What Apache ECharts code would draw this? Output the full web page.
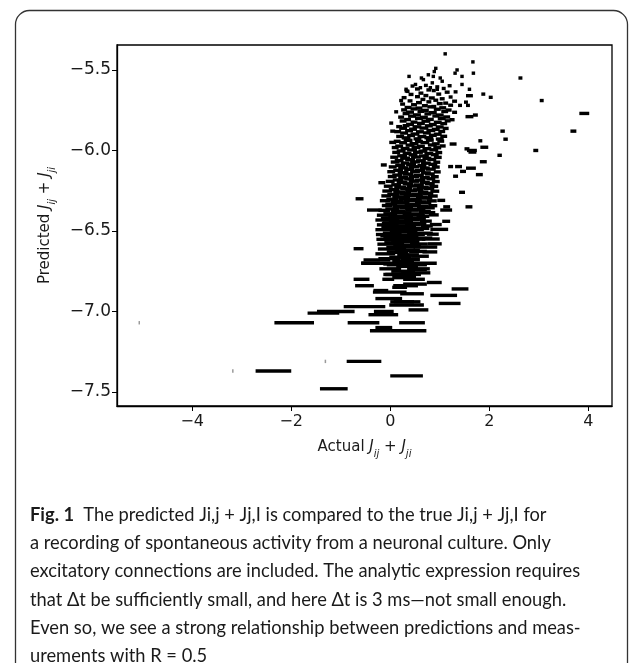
<!DOCTYPE html>
<html>
<head>
<meta charset="utf-8">
<script src="https://cdn.jsdelivr.net/npm/echarts@6/dist/echarts.min.js"></script>
<style>
  html, body { margin: 0; padding: 0; background: #fff; }
  #chart { width: 632px; height: 663px; }
</style>
</head>
<body>
<div id="chart"></div>
<script>
  // each entry: [actual Jij+Jji, predicted Jij+Jji, half length of the horizontal bar]
  const topDots = [
    [1.11, -5.40, 0.035], [1.67, -5.45, 0.035], [0.92, -5.49, 0.035], [0.89, -5.51, 0.035],
    [1.35, -5.50, 0.035], [1.31, -5.52, 0.035], [1.45, -5.54, 0.035], [1.68, -5.52, 0.035],
    [2.63, -5.55, 0.04], [0.38, -5.54, 0.035], [0.63, -5.55, 0.035], [0.67, -5.56, 0.035],
    [0.77, -5.53, 0.035], [0.87, -5.54, 0.035], [1.01, -5.55, 0.035], [1.05, -5.57, 0.035],
    [0.51, -5.59, 0.035], [0.85, -5.58, 0.035], [1.45, -5.59, 0.035], [1.60, -5.62, 0.035],
    [0.32, -5.62, 0.035], [0.61, -5.61, 0.035], [0.81, -5.61, 0.035], [0.95, -5.62, 0.035]
  ]

  const rightOutliers = [
    [1.60, -5.66, 0.07], [1.88, -5.65, 0.04], [2.03, -5.67, 0.04], [3.06, -5.69, 0.04],
    [1.53, -5.70, 0.04], [1.57, -5.72, 0.04], [1.41, -5.72, 0.04], [1.60, -5.79, 0.08],
    [1.72, -5.78, 0.05], [3.92, -5.77, 0.10], [2.27, -5.88, 0.045], [3.70, -5.88, 0.06],
    [2.33, -5.93, 0.045], [1.82, -5.94, 0.04], [1.55, -5.99, 0.05], [1.66, -6.01, 0.08],
    [1.90, -5.98, 0.08], [2.94, -6.00, 0.05], [2.21, -6.03, 0.045], [1.88, -6.07, 0.07],
    [1.63, -6.11, 0.10], [1.47, -6.13, 0.06], [1.80, -6.15, 0.07], [1.45, -6.26, 0.06],
    [1.59, -6.35, 0.07], [1.27, -5.96, 0.07], [1.65, -6.00, 0.10], [1.38, -6.10, 0.07],
    [1.22, -6.10, 0.05], [1.32, -6.16, 0.05], [1.14, -6.35, 0.07], [1.13, -6.37, 0.12],
    [1.03, -6.31, 0.08], [1.13, -6.44, 0.08], [0.99, -6.49, 0.18], [0.82, -6.55, 0.18],
    [0.71, -6.60, 0.24], [0.57, -6.71, 0.17], [0.54, -6.74, 0.20], [0.51, -6.76, 0.30],
    [1.41, -6.86, 0.17], [1.20, -6.95, 0.22], [1.08, -6.90, 0.27], [0.89, -6.82, 0.15],
    [0.50, -6.83, 0.24], [0.19, -6.85, 0.15], [0.44, -6.89, 0.24], [0.34, -6.94, 0.27],
    [0.57, -6.70, 0.37], [0.48, -6.80, 0.22], [0.31, -6.84, 0.25], [0.88, -6.40, 0.10],
    [0.92, -6.46, 0.12], [0.86, -6.52, 0.12], [0.90, -6.58, 0.14], [0.80, -6.63, 0.15]
  ]

  const leftEdge = [
    [-0.62, -6.30, 0.08], [-0.17, -6.20, 0.07], [-0.13, -6.09, 0.06], [0.05, -5.95, 0.07],
    [0.05, -5.88, 0.05], [-0.32, -6.37, 0.15], [0.02, -5.83, 0.04], [0.12, -5.76, 0.04],
    [0.22, -5.69, 0.04], [0.33, -5.63, 0.04], [-0.64, -6.61, 0.10], [-0.27, -6.68, 0.27],
    [-0.40, -6.70, 0.19], [-0.58, -6.80, 0.16], [-0.52, -6.84, 0.19], [-0.04, -6.80, 0.12],
    [-0.19, -6.87, 0.15], [0.03, -6.77, 0.17], [0.10, -6.63, 0.17], [0.42, -6.62, 0.18],
    [0.21, -6.42, 0.40], [0.15, -6.45, 0.30], [0.17, -6.48, 0.35], [0.10, -6.53, 0.30],
    [0.25, -6.55, 0.25], [-0.20, -6.70, 0.38], [0.06, -6.71, 0.13], [-0.01, -6.88, 0.34],
    [-0.03, -6.92, 0.27]
  ]

  // dense middle of the cloud, read row by row
  const coreUpper = [
    [0.45, -5.600, 0.04], [0.72, -5.596, 0.04], [0.95, -5.605, 0.04], [1.20, -5.598, 0.04],
    [0.55, -5.618, 0.05], [0.78, -5.624, 0.05], [1.08, -5.615, 0.04],
    [0.35, -5.633, 0.04], [0.88, -5.628, 0.04], [1.32, -5.636, 0.04],
    [0.62, -5.644, 0.05], [1.15, -5.638, 0.05],
    [0.42, -5.652, 0.05], [0.72, -5.659, 0.05], [0.98, -5.650, 0.05],
    [0.28, -5.672, 0.05], [0.55, -5.666, 0.05], [0.84, -5.674, 0.06], [1.22, -5.668, 0.04],
    [0.66, -5.683, 0.05], [1.05, -5.679, 0.05],
    [0.40, -5.692, 0.05], [0.92, -5.688, 0.05], [1.30, -5.694, 0.05],
    [0.58, -5.703, 0.06], [0.78, -5.698, 0.05], [1.12, -5.706, 0.05],
    [0.25, -5.712, 0.05], [0.48, -5.716, 0.06], [1.00, -5.709, 0.06],
    [0.70, -5.722, 0.06], [0.88, -5.727, 0.05], [1.22, -5.719, 0.05],
    [0.36, -5.733, 0.07], [0.58, -5.737, 0.07], [0.82, -5.729, 0.07], [1.06, -5.735, 0.07],
    [0.28, -5.748, 0.06], [0.48, -5.742, 0.07], [0.70, -5.751, 0.08], [0.95, -5.744, 0.07], [1.18, -5.749, 0.06],
    [0.40, -5.762, 0.08], [0.62, -5.757, 0.07], [0.86, -5.765, 0.08], [1.10, -5.758, 0.07], [1.30, -5.763, 0.05],
    [0.32, -5.771, 0.07], [0.54, -5.779, 0.08], [0.76, -5.773, 0.07], [1.00, -5.780, 0.08],
    [0.22, -5.793, 0.06], [0.44, -5.787, 0.08], [0.68, -5.794, 0.08], [0.92, -5.786, 0.07], [1.14, -5.792, 0.07],
    [0.35, -5.808, 0.07], [0.58, -5.801, 0.08], [0.80, -5.807, 0.08], [1.04, -5.802, 0.08], [1.25, -5.809, 0.05],
    [0.26, -5.817, 0.07], [0.48, -5.824, 0.07], [0.72, -5.818, 0.09], [0.96, -5.825, 0.08], [1.16, -5.816, 0.06],
    [0.40, -5.838, 0.08], [0.62, -5.832, 0.08], [0.86, -5.839, 0.08], [1.08, -5.833, 0.07],
    [0.18, -5.852, 0.06], [0.32, -5.846, 0.07], [0.54, -5.853, 0.09], [0.78, -5.847, 0.08], [1.00, -5.854, 0.08],
    [0.26, -5.862, 0.08], [0.46, -5.868, 0.08], [0.68, -5.861, 0.09], [0.92, -5.869, 0.08], [1.12, -5.863, 0.06],
    [0.15, -5.883, 0.07], [0.38, -5.877, 0.08], [0.60, -5.884, 0.08], [0.82, -5.876, 0.09], [1.04, -5.882, 0.07],
    [0.28, -5.892, 0.08], [0.50, -5.898, 0.09], [0.74, -5.891, 0.08], [0.96, -5.899, 0.08],
    [0.20, -5.913, 0.08], [0.42, -5.907, 0.08], [0.64, -5.914, 0.09], [0.86, -5.906, 0.08], [1.08, -5.912, 0.07],
    [0.32, -5.922, 0.09], [0.55, -5.928, 0.08], [0.78, -5.921, 0.09], [1.00, -5.929, 0.08],
    [0.14, -5.943, 0.07], [0.36, -5.937, 0.09], [0.58, -5.944, 0.08], [0.80, -5.936, 0.08], [1.02, -5.942, 0.07],
    [0.26, -5.952, 0.08], [0.48, -5.958, 0.09], [0.70, -5.951, 0.09], [0.92, -5.959, 0.08],
    [0.18, -5.973, 0.08], [0.40, -5.967, 0.09], [0.62, -5.974, 0.08], [0.85, -5.966, 0.09], [1.06, -5.972, 0.06]
  ]

  const coreMiddle = [
    [0.10, -5.982, 0.07], [0.30, -5.988, 0.09], [0.52, -5.981, 0.09], [0.74, -5.989, 0.09], [0.95, -5.983, 0.08],
    [0.22, -6.003, 0.09], [0.44, -5.997, 0.10], [0.66, -6.004, 0.09], [0.88, -5.996, 0.09],
    [0.12, -6.012, 0.08], [0.34, -6.018, 0.09], [0.56, -6.011, 0.10], [0.78, -6.019, 0.09], [0.98, -6.013, 0.07],
    [0.24, -6.033, 0.10], [0.46, -6.027, 0.09], [0.68, -6.034, 0.10], [0.90, -6.026, 0.08],
    [0.08, -6.042, 0.08], [0.30, -6.048, 0.10], [0.52, -6.041, 0.10], [0.74, -6.049, 0.09], [0.96, -6.043, 0.08],
    [0.18, -6.063, 0.09], [0.40, -6.057, 0.10], [0.62, -6.064, 0.10], [0.84, -6.056, 0.09],
    [0.10, -6.072, 0.09], [0.30, -6.078, 0.09], [0.50, -6.071, 0.10], [0.72, -6.079, 0.10], [0.94, -6.073, 0.07],
    [0.20, -6.093, 0.10], [0.42, -6.087, 0.10], [0.64, -6.094, 0.09], [0.86, -6.086, 0.09],
    [0.05, -6.102, 0.08], [0.26, -6.108, 0.10], [0.48, -6.101, 0.11], [0.70, -6.109, 0.10], [0.92, -6.103, 0.08],
    [0.16, -6.123, 0.10], [0.38, -6.117, 0.10], [0.60, -6.124, 0.11], [0.82, -6.116, 0.10],
    [0.02, -6.132, 0.08], [0.26, -6.138, 0.11], [0.50, -6.131, 0.10], [0.72, -6.139, 0.10], [0.95, -6.133, 0.07],
    [0.14, -6.153, 0.10], [0.36, -6.147, 0.11], [0.58, -6.154, 0.10], [0.80, -6.146, 0.10],
    [0.04, -6.162, 0.09], [0.26, -6.168, 0.10], [0.48, -6.161, 0.11], [0.70, -6.169, 0.10], [0.90, -6.163, 0.08],
    [0.16, -6.183, 0.11], [0.38, -6.177, 0.10], [0.60, -6.184, 0.11], [0.82, -6.176, 0.09],
    [0.00, -6.192, 0.09], [0.24, -6.198, 0.11], [0.48, -6.191, 0.11], [0.70, -6.199, 0.10], [0.92, -6.193, 0.08],
    [0.12, -6.213, 0.10], [0.36, -6.207, 0.11], [0.58, -6.214, 0.10], [0.80, -6.206, 0.10],
    [-0.04, -6.222, 0.09], [0.20, -6.228, 0.12], [0.44, -6.221, 0.11], [0.66, -6.229, 0.12], [0.88, -6.223, 0.09],
    [0.08, -6.243, 0.11], [0.32, -6.237, 0.12], [0.56, -6.244, 0.11], [0.78, -6.236, 0.11],
    [-0.06, -6.252, 0.10], [0.18, -6.258, 0.12], [0.42, -6.251, 0.12], [0.66, -6.259, 0.11], [0.90, -6.253, 0.09],
    [0.06, -6.273, 0.12], [0.30, -6.267, 0.12], [0.54, -6.274, 0.12], [0.76, -6.266, 0.11],
    [-0.08, -6.282, 0.10], [0.16, -6.288, 0.12], [0.40, -6.281, 0.13], [0.64, -6.289, 0.12], [0.86, -6.283, 0.10],
    [0.04, -6.303, 0.12], [0.28, -6.297, 0.12], [0.52, -6.304, 0.12], [0.74, -6.296, 0.11],
    [-0.10, -6.312, 0.11], [0.14, -6.318, 0.13], [0.38, -6.311, 0.12], [0.62, -6.319, 0.12], [0.84, -6.313, 0.10],
    [0.02, -6.333, 0.12], [0.26, -6.327, 0.13], [0.50, -6.334, 0.12], [0.72, -6.326, 0.11],
    [-0.06, -6.342, 0.11], [0.18, -6.348, 0.13], [0.42, -6.341, 0.13], [0.66, -6.349, 0.12], [0.86, -6.343, 0.09]
  ]

  const coreLower = [
    [0.04, -6.363, 0.14], [0.32, -6.357, 0.14], [0.58, -6.364, 0.13], [0.80, -6.356, 0.10],
    [-0.12, -6.372, 0.12], [0.16, -6.378, 0.15], [0.44, -6.371, 0.14], [0.70, -6.379, 0.12],
    [0.00, -6.393, 0.14], [0.28, -6.387, 0.15], [0.56, -6.394, 0.14], [0.80, -6.386, 0.11],
    [-0.14, -6.402, 0.13], [0.12, -6.408, 0.16], [0.40, -6.401, 0.15], [0.66, -6.409, 0.13],
    [0.02, -6.423, 0.16], [0.30, -6.417, 0.16], [0.58, -6.424, 0.14],
    [-0.16, -6.432, 0.14], [0.14, -6.438, 0.17], [0.44, -6.431, 0.16], [0.72, -6.439, 0.12],
    [0.00, -6.453, 0.17], [0.30, -6.447, 0.16], [0.58, -6.454, 0.15],
    [-0.12, -6.462, 0.15], [0.16, -6.468, 0.18], [0.46, -6.461, 0.16], [0.74, -6.469, 0.12],
    [0.02, -6.483, 0.18], [0.34, -6.477, 0.18], [0.64, -6.484, 0.15],
    [-0.14, -6.492, 0.16], [0.18, -6.498, 0.19], [0.50, -6.491, 0.18],
    [0.04, -6.513, 0.19], [0.36, -6.507, 0.19], [0.70, -6.514, 0.16],
    [-0.12, -6.522, 0.17], [0.20, -6.528, 0.20], [0.52, -6.521, 0.18],
    [0.06, -6.543, 0.20], [0.38, -6.537, 0.19], [0.70, -6.544, 0.15],
    [-0.10, -6.552, 0.18], [0.22, -6.558, 0.20], [0.54, -6.551, 0.17],
    [0.08, -6.573, 0.20], [0.40, -6.567, 0.19],
    [-0.08, -6.582, 0.18], [0.26, -6.588, 0.20], [0.58, -6.581, 0.18],
    [0.12, -6.603, 0.20], [0.44, -6.597, 0.18],
    [-0.06, -6.612, 0.19], [0.30, -6.618, 0.20],
    [0.16, -6.633, 0.21], [0.56, -6.627, 0.18],
    [-0.10, -6.642, 0.20], [0.36, -6.648, 0.22],
    [0.20, -6.663, 0.22], [0.60, -6.657, 0.18],
    [-0.02, -6.672, 0.22], [0.40, -6.678, 0.20],
    [0.26, -6.690, 0.22],
    [0.10, -6.705, 0.24], [0.54, -6.705, 0.20],
    [0.34, -6.720, 0.22],
    [0.00, -6.735, 0.22], [0.62, -6.735, 0.18],
    [0.26, -6.750, 0.24],
    [0.40, -6.770, 0.22], [0.10, -6.770, 0.20],
    [0.28, -6.790, 0.24]
  ]

  const lowerSegments = [
    [0.57, -6.99, 0.20], [0.44, -7.07, 0.26], [0.16, -7.12, 0.57], [-0.13, -7.10, 0.17],
    [-0.14, -7.02, 0.30], [-0.13, -7.00, 0.20], [-0.54, -7.07, 0.32], [-1.94, -7.07, 0.40],
    [-1.10, -7.00, 0.38], [-1.35, -7.01, 0.32], [-0.52, -6.97, 0.42], [0.33, -6.96, 0.35],
    [0.24, -6.94, 0.24], [-0.53, -7.31, 0.35], [0.33, -7.40, 0.33], [-1.14, -7.48, 0.28],
    [-2.36, -7.37, 0.36]
  ]

  // near-zero spread, drawn as faint specks
  const strayPoints = [
    [-5.07, -7.07, 0.005], [-3.18, -7.37, 0.005], [-1.31, -7.31, 0.005]
  ]

  const xTicks = [-4, -2, 0, 2, 4]
  const yTicks = [-7.5, -7.0, -6.5, -6.0, -5.5]

  const captionLines = [
    'The predicted Ji,j + Jj,I is compared to the true Ji,j + Jj,I for',
    'a recording of spontaneous activity from a neuronal culture. Only',
    'excitatory connections are included. The analytic expression requires',
    'that Δt be sufficiently small, and here Δt is 3 ms—not small enough.',
    'Even so, we see a strong relationship between predictions and meas-',
    'urements with R = 0.5'
  ]

  const allSegments = [].concat(strayPoints, lowerSegments, coreLower, coreMiddle, coreUpper, leftEdge, rightOutliers, topDots)

  const minus = (v) => String(v).replace('-', '\u2212')

  const chart = echarts.init(document.getElementById('chart'))

  // 画出水平短线
  const renderSegment = (params, api) => {
    const x = api.value(0)
    const y = api.value(1)
    const hw = api.value(2)
    const p0 = api.coord([x - hw, y])
    const p1 = api.coord([x + hw, y])
    const w = Math.max(p1[0] - p0[0], 1.5)
    const cx = (p0[0] + p1[0]) / 2
    const tiny = hw < 0.02
    return {
      type: 'rect',
      shape: { x: cx - w / 2, y: p0[1] - 1.7, width: w, height: 3.4 },
      style: { fill: tiny ? '#9a9a9a' : '#000' }
    }
  }

  const captionGraphics = captionLines.map((line, i) => ({
    type: 'text',
    left: 30,
    top: 506 + i * 28.3,
    style: {
      text: i === 0 ? '{b|Fig. 1}  ' + line : line,
      font: '18.3px Lato',
      fill: '#1a1a1a',
      rich: {
        b: { font: 'bold 18.3px Lato', fill: '#1a1a1a' }
      }
    }
  }))

  const nameRich = {
    n: { fontFamily: 'DejaVu Sans', fontSize: 15, color: '#1a1a1a', verticalAlign: 'bottom' },
    j: { fontFamily: 'DejaVu Sans', fontSize: 15, fontStyle: 'italic', color: '#1a1a1a', verticalAlign: 'bottom' },
    s: { fontFamily: 'DejaVu Sans', fontSize: 10, fontStyle: 'italic', color: '#1a1a1a', verticalAlign: 'bottom', padding: [0, 0, -4, 0] }
  }

  const option = {
    animation: false,
    backgroundColor: '#fff',
    graphic: [
      {
        type: 'rect',
        left: 13,
        top: 8,
        shape: { width: 612, height: 666, r: 14 },
        style: { fill: 'none', stroke: '#333', lineWidth: 1.3 }
      }
    ].concat(captionGraphics),
    grid: {
      left: 117,
      right: 20,
      top: 45,
      bottom: 257,
      show: true,
      borderColor: '#000',
      borderWidth: 1.3,
      backgroundColor: 'transparent'
    },
    xAxis: {
      type: 'value',
      min: -5.52,
      max: 4.48,
      splitLine: { show: false },
      axisLine: { show: true, onZero: false, lineStyle: { color: '#000', width: 1.3 } },
      axisTick: { show: true, length: 5, customValues: xTicks, lineStyle: { color: '#000', width: 1 } },
      axisLabel: {
        customValues: xTicks,
        formatter: minus,
        fontFamily: 'DejaVu Sans',
        fontSize: 16,
        color: '#1a1a1a',
        margin: 8
      },
      name: '{n|Actual }{j|J}{s|ij}{n| + }{j|J}{s|ji}',
      nameLocation: 'middle',
      nameGap: 34,
      nameTextStyle: { rich: nameRich }
    },
    yAxis: {
      type: 'value',
      min: -7.587,
      max: -5.345,
      splitLine: { show: false },
      axisLine: { show: true, onZero: false, lineStyle: { color: '#000', width: 1.3 } },
      axisTick: { show: true, length: 5, customValues: yTicks, lineStyle: { color: '#000', width: 1 } },
      axisLabel: {
        customValues: yTicks,
        formatter: (v) => minus(v.toFixed(1)),
        fontFamily: 'DejaVu Sans',
        fontSize: 17,
        color: '#1a1a1a',
        margin: 6
      },
      name: '{n|Predicted }{j|J}{s|ij}{n| + }{j|J}{s|ji}',
      nameLocation: 'middle',
      nameGap: 64,
      nameRotate: 90,
      nameTextStyle: { rich: nameRich }
    },
    series: [
      {
        type: 'custom',
        renderItem: renderSegment,
        data: allSegments,
        clip: true,
        silent: true
      }
    ]
  }

  chart.setOption(option)
</script>
</body>
</html>
